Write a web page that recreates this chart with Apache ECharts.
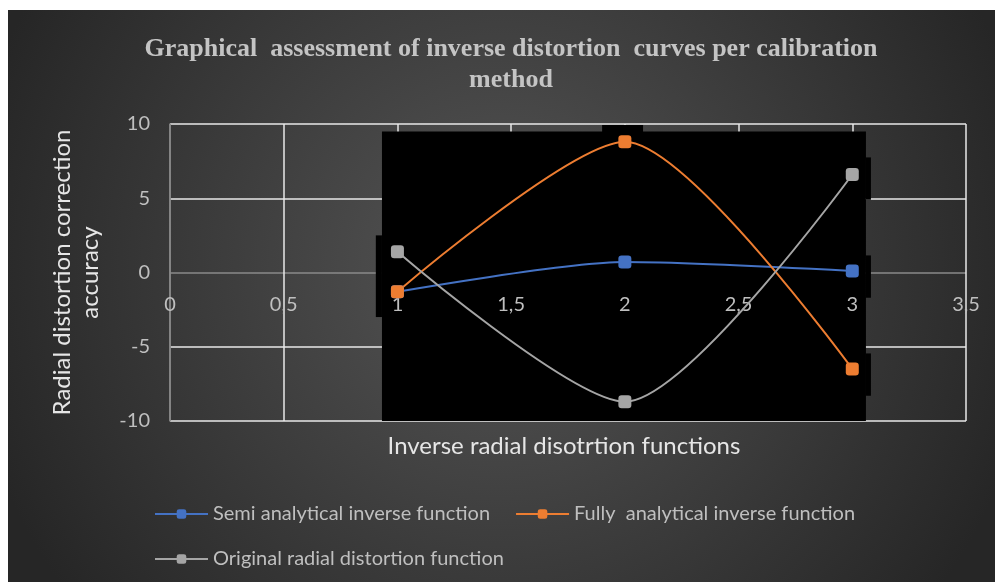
<!DOCTYPE html>
<html>
<head>
<meta charset="utf-8">
<script src="https://cdn.jsdelivr.net/npm/echarts@6/dist/echarts.min.js"></script>
<style>
  html, body { margin: 0; padding: 0; background: #ffffff; }
  #chart { position: absolute; left: 8px; top: 10px; width: 987px; height: 572px; }
</style>
</head>
<body>
<div id="chart"></div>
<script>
// ==== DATA ====
var xValues = [1, 2, 3];
var semiValues = [-1.3, 0.7, 0.1];
var fullyValues = [-1.3, 8.8, -6.5];
var originalValues = [1.4, -8.7, 6.6];
var seriesNames = [
  "Semi analytical inverse function",
  "Fully  analytical inverse function",
  "Original radial distortion function"
];
var seriesColors = ["#4472C4", "#ED7D31", "#A5A5A5"];
// black blocks behind the curves, [x1, y1, x2, y2] in axis units
var blackBlocks = [
  [0.932, 9.5, 3.06, -10],
  [0.905, 2.5, 0.932, -3.0],
  [1.9, 9.93, 2.08, -10.4],
  [3.06, 7.75, 3.082, 4.9],
  [3.06, 1.15, 3.082, -1.7],
  [3.06, -5.45, 3.082, -8.3]
];

function pairs(ys) {
  return xValues.map(function (x, i) {
    return [x, ys[i]];
  });
}

function commaLabel(v) {
  return String(v).replace(".", ",");
}

var labelColor = "#bfbfbf";
var gridWhite = "#e8e8e8";
var axisGray = "#8a8a8a";
var gridBox = { left: 162, right: 29, top: 114, bottom: 161 };
// label axis sits on y = 0, i.e. half the plot height above the bottom edge
var zeroOffset = -(572 - gridBox.top - gridBox.bottom) / 2;

var lineSeries = [semiValues, fullyValues, originalValues].map(function (ys, i) {
  return {
    name: seriesNames[i],
    type: "line",
    data: pairs(ys),
    smooth: 0.25,
    symbol: "roundRect",
    symbolSize: 13,
    z: 4,
    lineStyle: { color: seriesColors[i], width: 2 },
    itemStyle: { color: seriesColors[i] },
  };
});

lineSeries.unshift({
  name: "blocks",
  type: "line",
  data: [],
  z: 1,
  clip: false,
  silent: true,
  markArea: {
    silent: true,
    itemStyle: { color: "#000000", opacity: 1 },
    data: blackBlocks.map(function (b) {
      return [{ coord: [b[0], b[1]] }, { coord: [b[2], b[3]] }];
    }),
  },
});

var chart = echarts.init(document.getElementById("chart"));
chart.setOption({
  animation: false,
  backgroundColor: {
    type: "radial",
    x: 0.5,
    y: 0.45,
    r: 0.95,
    colorStops: [
      { offset: 0, color: "#555555" },
      { offset: 1, color: "#262626" },
    ],
  },
  title: [
    {
      text: "Graphical  assessment of inverse distortion  curves per calibration\nmethod",
      left: 498,
      top: 19,
      textAlign: "center",
      textStyle: {
        fontFamily: "Liberation Serif",
        fontWeight: "bold",
        fontSize: 26,
        lineHeight: 31,
        color: "#c4c4c4",
      },
    },
    {
      text: "Inverse radial disotrtion functions",
      left: 551,
      top: 419,
      textAlign: "center",
      textStyle: {
        fontFamily: "Lato",
        fontWeight: "normal",
        fontSize: 24,
        color: "#e6e6e6",
      },
    },
  ],
  legend: {
    data: seriesNames,
    left: 141,
    top: 489,
    width: 780,
    itemGap: 25,
    itemWidth: 53,
    itemHeight: 12,
    textStyle: { fontFamily: "Lato", fontSize: 20, color: labelColor },
  },
  grid: gridBox,
  xAxis: [
    {
      type: "value",
      min: 0,
      max: 3.5,
      interval: 0.5,
      z: 0,
      axisLine: { show: false, onZero: false },
      axisTick: { show: false },
      axisLabel: { show: false },
      splitLine: {
        show: true,
        lineStyle: {
          color: [axisGray, gridWhite, gridWhite, gridWhite, gridWhite, gridWhite, gridWhite, gridWhite],
          width: 1.5,
        },
      },
    },
    {
      type: "value",
      position: "bottom",
      offset: zeroOffset,
      min: 0,
      max: 3.5,
      interval: 0.5,
      z: 3,
      axisLine: { show: false, onZero: false },
      axisTick: { show: false },
      splitLine: { show: false },
      axisLabel: {
        margin: 22,
        fontFamily: "Lato",
        fontSize: 20,
        color: labelColor,
        formatter: commaLabel,
      },
    },
  ],
  yAxis: {
    type: "value",
    min: -10,
    max: 10,
    interval: 5,
    name: "Radial distortion correction\naccuracy",
    nameLocation: "middle",
    nameRotate: 90,
    nameGap: 66,
    nameTextStyle: {
      fontFamily: "Lato",
      fontSize: 24,
      lineHeight: 28,
      color: "#e6e6e6",
    },
    axisLine: { show: true, onZero: false, lineStyle: { color: axisGray, width: 1.5 } },
    axisTick: { show: false },
    axisLabel: {
      margin: 20,
      fontFamily: "Lato",
      fontSize: 20,
      color: labelColor,
    },
    splitLine: {
      show: true,
      lineStyle: {
        color: [gridWhite, gridWhite, axisGray, gridWhite, gridWhite],
        width: 1.5,
      },
    },
  },
  series: lineSeries,
});
</script>
</body>
</html>
